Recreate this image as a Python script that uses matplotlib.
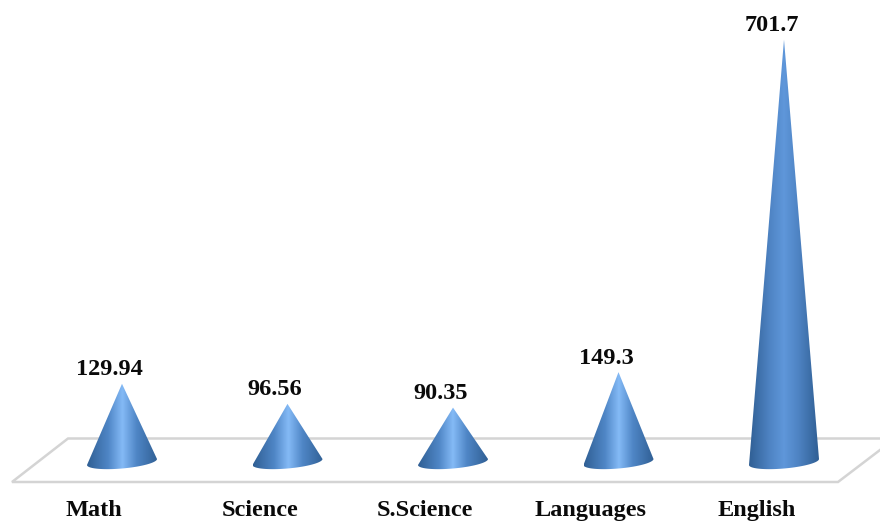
import matplotlib
matplotlib.use('Agg')
import matplotlib.pyplot as plt
import numpy as np
from matplotlib.colors import LinearSegmentedColormap
from matplotlib.patches import PathPatch
from matplotlib.path import Path

categories = ['Math', 'Science', 'S.Science', 'Languages', 'English']
values = [129.94, 96.56, 90.35, 149.3, 701.7]
value_labels = ['129.94', '96.56', '90.35', '149.3', '701.7']

W, H = 880, 526
plt.rcParams['font.family'] = ['Liberation Serif', 'DejaVu Serif']

fig = plt.figure(figsize=(W / 100, H / 100), dpi=100)
ax = fig.add_axes([0, 0, 1, 1])

# echelle : y=0 a 462 px du haut, 0.602 px par unite ; categories tous les 165.5 px
px_y = 0.602
px_x = 165.5
ax.axis('off')

# plancher gris (coordonnees en fraction de la figure)
floor_x = np.array([880, 68, 12, 838, 880]) / W
floor_y = 1 - np.array([438.5, 438.5, 482, 482, 450]) / H
ax.plot(floor_x, floor_y, transform=ax.transAxes, color='#d4d4d4', lw=1.8, zorder=1,
        solid_joinstyle='miter')

half_w = 35 / px_x
half_h = 6.5 / px_y
tilt = 3 / px_y
t = np.linspace(np.pi, 2 * np.pi, 40)

for i, v in enumerate(values):
    # le cone de l'anglais est moins clair au centre
    light = '#5f97da' if v > 500 else '#84baf6'
    mid = '#4f84c4' if v > 500 else '#4f86c6'
    cmap = LinearSegmentedColormap.from_list(
        'cone', [(0, '#305f94'), (0.3, mid), (0.5, light), (0.7, mid), (1, '#305f94')])
    grad = np.linspace(0, 1, 256).reshape(1, -1)
    im = ax.imshow(grad, cmap=cmap, aspect='auto', zorder=3,
                   extent=[i - half_w, i + half_w, -3 * half_h, v])
    arc_x = i + half_w * np.cos(t)
    arc_y = half_h * np.sin(t) + tilt * np.cos(t)
    verts = [(i, v)] + list(zip(arc_x, arc_y)) + [(i, v)]
    codes = [Path.MOVETO] + [Path.LINETO] * (len(verts) - 2) + [Path.CLOSEPOLY]
    patch = PathPatch(Path(verts, codes), transform=ax.transData, fc='none', ec='none')
    ax.add_patch(patch)
    im.set_clip_path(patch)

    ax.annotate(value_labels[i], (i, v), xytext=(-9, 10), textcoords='offset points',
                ha='center', va='center', fontsize=17.5, fontweight='bold', color='#0a0a0a')
    ax.annotate(categories[i], (i, 0), xytext=(-20, -35), textcoords='offset points',
                ha='center', va='center', fontsize=17.5, fontweight='bold', color='#0a0a0a')

ax.set_xlim(-122 / px_x, (W - 122) / px_x)
ax.set_ylim(-(H - 462) / px_y, 462 / px_y)

fig.savefig('out.png', dpi=100)
